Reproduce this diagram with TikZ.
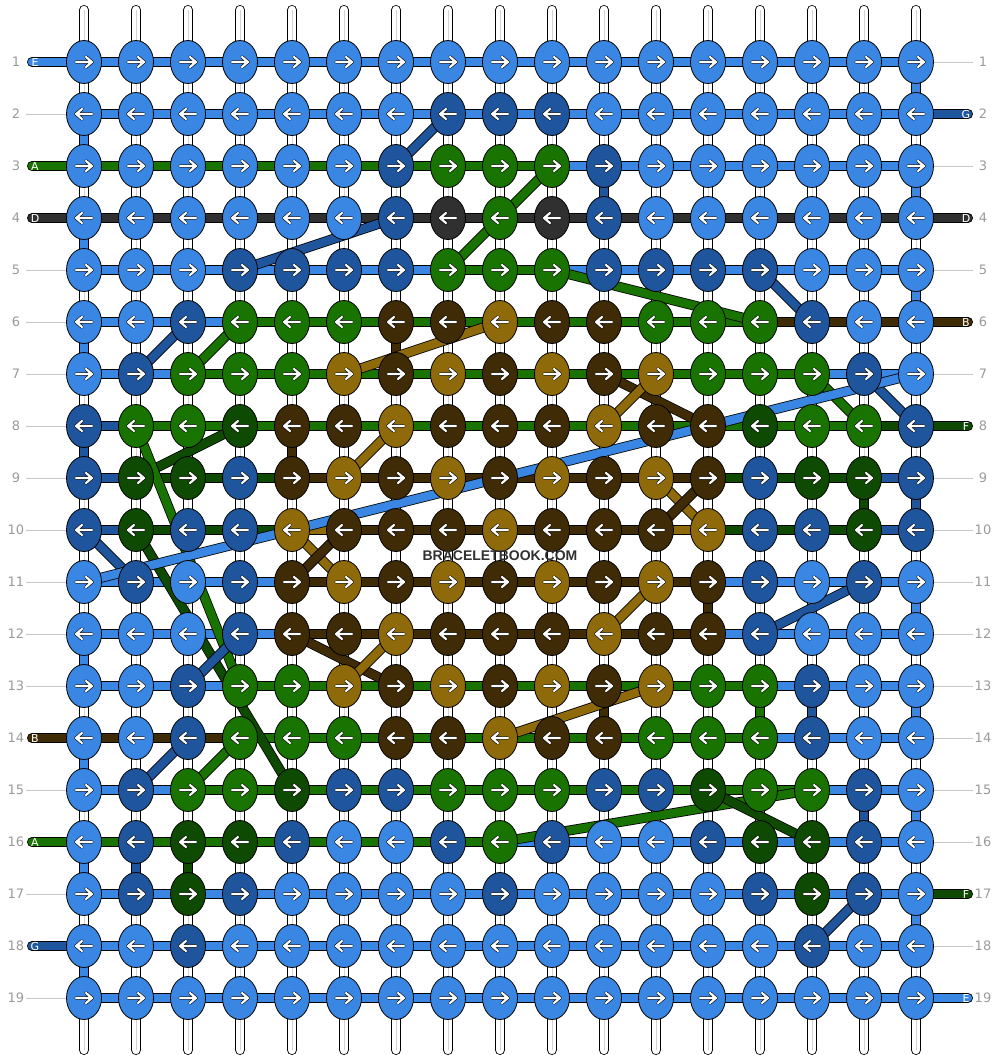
\documentclass[tikz,border=0pt]{standalone}
\usepackage{fontspec}
\setmainfont{DejaVu Sans}
\newfontfamily\brandfont{Liberation Sans}
\usetikzlibrary{shapes.geometric}
\definecolor{lb}{HTML}{3A87E3}
\definecolor{db}{HTML}{1F559D}
\definecolor{gr}{HTML}{197300}
\definecolor{dg}{HTML}{0F4A02}
\definecolor{br}{HTML}{3F2C07}
\definecolor{go}{HTML}{8F6A0B}
\definecolor{gy}{HTML}{303030}
\definecolor{numgray}{HTML}{9A9A9A}
\pgfdeclarelayer{warp}
\pgfdeclarelayer{bars}
\pgfsetlayers{warp,bars,main}
\tikzset{
  knot/.style={ellipse, draw, line width=.8pt, minimum width=35pt, minimum height=43pt, inner sep=0pt},
  thread/.style={draw=black, double=#1, double distance=8.4pt, line width=.8pt},
  tick/.style={draw=black!22, line width=1pt},
  num/.style={text=numgray, font=\fontsize{13}{13}\selectfont, inner sep=0pt},
  tag/.style={text=white, font=\fontsize{11}{11}\selectfont, inner sep=0pt},
  rarr/.pic={
    \draw[black, line width=3.4pt, line cap=round, line join=round] (-8,0)--(8,0) (2,-5)--(8,0)--(2,5);
    \draw[white, line width=2.2pt, line cap=round, line join=round] (-8,0)--(8,0) (2,-5)--(8,0)--(2,5);},
  larr/.pic={
    \draw[black, line width=3.4pt, line cap=round, line join=round] (8,0)--(-8,0) (-2,-5)--(-8,0)--(-2,5);
    \draw[white, line width=2.2pt, line cap=round, line join=round] (8,0)--(-8,0) (-2,-5)--(-8,0)--(-2,5);}
}

\begin{document}
\begin{tikzpicture}[x=1pt, y=-1pt]
\useasboundingbox (0,0) rectangle (1000,1060);

% knots
\foreach \rw/\cols in {
  1/{lb,lb,lb,lb,lb,lb,lb,lb,lb,lb,lb,lb,lb,lb,lb,lb,lb},
  2/{lb,lb,lb,lb,lb,lb,lb,db,db,db,lb,lb,lb,lb,lb,lb,lb},
  3/{lb,lb,lb,lb,lb,lb,db,gr,gr,gr,db,lb,lb,lb,lb,lb,lb},
  4/{lb,lb,lb,lb,lb,lb,db,gy,gr,gy,db,lb,lb,lb,lb,lb,lb},
  5/{lb,lb,lb,db,db,db,db,gr,gr,gr,db,db,db,db,lb,lb,lb},
  6/{lb,lb,db,gr,gr,gr,br,br,go,br,br,gr,gr,gr,db,lb,lb},
  7/{lb,db,gr,gr,gr,go,br,go,br,go,br,go,gr,gr,gr,db,lb},
  8/{db,gr,gr,dg,br,br,go,br,br,br,go,br,br,dg,gr,gr,db},
  9/{db,dg,dg,db,br,go,br,go,br,go,br,go,br,db,dg,dg,db},
  10/{db,dg,db,db,go,br,br,br,go,br,br,br,go,db,db,dg,db},
  11/{lb,db,lb,db,br,go,br,go,br,go,br,go,br,db,lb,db,lb},
  12/{lb,lb,lb,db,br,br,go,br,br,br,go,br,br,db,lb,lb,lb},
  13/{lb,lb,db,gr,gr,go,br,go,br,go,br,go,gr,gr,db,lb,lb},
  14/{lb,lb,db,gr,gr,gr,br,br,go,br,br,gr,gr,gr,db,lb,lb},
  15/{lb,db,gr,gr,dg,db,db,gr,gr,gr,db,db,dg,gr,gr,db,lb},
  16/{lb,db,dg,dg,db,lb,lb,db,gr,db,lb,lb,db,dg,dg,db,lb},
  17/{lb,db,dg,db,lb,lb,lb,lb,db,lb,lb,lb,lb,db,dg,db,lb},
  18/{lb,lb,db,lb,lb,lb,lb,lb,lb,lb,lb,lb,lb,lb,db,lb,lb},
  19/{lb,lb,lb,lb,lb,lb,lb,lb,lb,lb,lb,lb,lb,lb,lb,lb,lb}} {
  \foreach \kc [count=\i] in \cols {
    \node[knot, fill=\kc] (k\rw-\i) at ({84+52*(\i-1)},{62+52*(\rw-1)}) {};
    \ifodd\rw\relax \pic at (k\rw-\i) {rarr}; \else \pic at (k\rw-\i) {larr}; \fi
  }
}

\begin{pgfonlayer}{warp}
\foreach \i in {1,...,17} {
  \coordinate (t\i) at ({84+52*(\i-1)},10);
  \coordinate (b\i) at ({84+52*(\i-1)},1050);
  \draw[thread=white, line cap=round] (t\i) -- (b\i);
  \draw[black!18, line width=1pt] (t\i) -- (b\i);
}
\end{pgfonlayer}

\begin{pgfonlayer}{bars}
\foreach \rw/\segs in {
  1/{lb,lb,lb,lb,lb,lb,lb,lb,lb,lb,lb,lb,lb,lb,lb,lb},
  2/{lb,lb,lb,lb,lb,lb,lb,lb,lb,lb,lb,lb,lb,lb,lb,lb},
  3/{gr,gr,gr,gr,gr,gr,gr,gr,gr,lb,lb,lb,lb,lb,lb,lb},
  4/{gy,gy,gy,gy,gy,gy,gy,gy,gy,gy,gy,gy,gy,gy,gy,gy},
  5/{lb,lb,lb,lb,lb,lb,lb,gr,gr,lb,lb,lb,lb,lb,lb,lb},
  6/{lb,lb,lb,gr,gr,gr,gr,gr,gr,gr,gr,gr,gr,br,br,br},
  7/{lb,lb,gr,gr,gr,gr,gr,gr,gr,gr,gr,gr,gr,gr,lb,lb},
  8/{db,gr,gr,gr,gr,gr,gr,gr,gr,gr,gr,gr,gr,gr,gr,dg},
  9/{db,dg,dg,dg,br,br,br,br,br,br,br,br,dg,dg,dg,db},
  10/{db,dg,dg,dg,go,br,br,br,br,br,br,go,dg,dg,dg,db},
  11/{lb,lb,lb,lb,br,br,br,br,br,br,br,br,lb,lb,lb,lb},
  12/{lb,lb,lb,lb,br,br,br,br,br,br,br,br,lb,lb,lb,lb},
  13/{lb,lb,lb,gr,gr,gr,gr,gr,gr,gr,gr,gr,gr,lb,lb,lb},
  14/{br,br,br,gr,gr,gr,gr,gr,gr,gr,gr,gr,gr,lb,lb,lb},
  15/{lb,lb,gr,gr,gr,gr,gr,gr,gr,gr,gr,gr,gr,gr,lb,lb},
  16/{gr,gr,gr,gr,gr,gr,gr,gr,lb,lb,lb,lb,lb,lb,lb,lb},
  17/{lb,lb,lb,lb,lb,lb,lb,lb,lb,lb,lb,lb,lb,lb,lb,lb},
  18/{lb,lb,lb,lb,lb,lb,lb,lb,lb,lb,lb,lb,lb,lb,lb,lb},
  19/{lb,lb,lb,lb,lb,lb,lb,lb,lb,lb,lb,lb,lb,lb,lb,lb}} {
  \foreach \sc [count=\i] in \segs {
    \pgfmathtruncatemacro\j{\i+1}
    \draw[thread=\sc] (k\rw-\i.center) -- (k\rw-\j.center);
  }
}
% threads going down one row
\foreach \kc/\rw/\vc in {1/2/lb,1/4/lb,1/6/lb,1/8/db,1/12/lb,1/14/lb,1/16/lb,1/18/lb,
  17/1/lb,17/3/lb,17/5/lb,17/9/db,17/11/lb,17/13/lb,17/15/lb,17/17/lb,
  11/3/db,7/6/br,5/8/br,16/9/dg,13/11/br,11/13/br,14/13/gr,15/13/db,16/15/db,2/16/db,3/16/dg} {
  \pgfmathtruncatemacro\nx{\rw+1}
  \draw[thread=\vc] (k\rw-\kc.center) -- (k\nx-\kc.center);
}
% threads jumping across
\foreach \a/\b/\dc in {2-8/3-7/db, 4-7/5-4/db, 3-10/5-8/gr, 5-10/6-14/gr, 5-14/6-15/db,
  6-3/7-2/db, 6-4/7-3/gr, 6-9/7-6/go, 7-11/8-13/br, 7-12/8-11/go, 7-15/8-16/gr, 7-16/8-17/db,
  8-4/9-2/dg, 8-2/13-4/gr, 10-2/15-5/dg, 10-1/11-2/db, 12-4/13-3/db, 10-5/11-6/go, 11-5/10-6/br,
  9-6/8-7/go, 12-5/13-7/br, 12-7/13-6/go, 9-12/10-13/go, 9-13/10-12/br, 11-12/12-11/go,
  13-12/14-9/go, 11-16/12-14/db, 14-4/15-3/gr, 14-3/15-2/db, 16-9/15-15/gr, 15-13/16-15/dg,
  17-16/18-15/db, 7-17/11-1/lb}
  \draw[thread=\dc] (k\a.center) -- (k\b.center);
\end{pgfonlayer}

% loose ends with letters
\foreach \rw/\tc/\tg in {1/lb/E,3/gr/A,4/gy/D,14/br/B,16/gr/A,18/db/G} {
  \coordinate (el\rw) at (32,{62+52*(\rw-1)});
  \begin{pgfonlayer}{bars}
    \draw[thread=\tc, line cap=round] (el\rw) -- (k\rw-1.center);
  \end{pgfonlayer}
  \node[tag] (tl\rw) at ([xshift=3pt]el\rw) {\tg};
}
\foreach \rw/\tc/\tg in {2/db/G,4/gy/D,6/br/B,8/dg/F,17/dg/F,19/lb/E} {
  \coordinate (er\rw) at (968,{62+52*(\rw-1)});
  \begin{pgfonlayer}{bars}
    \draw[thread=\tc, line cap=round] (k\rw-17.center) -- (er\rw);
  \end{pgfonlayer}
  \node[tag] (tr\rw) at ([xshift=-2pt]er\rw) {\tg};
}
\foreach \rw in {2,5,6,7,8,9,10,11,12,13,15,17,19} {
  \coordinate (gl\rw) at (26,{62+52*(\rw-1)});
  \draw[tick] (gl\rw) -- (k\rw-1.west);
}
\foreach \rw in {1,3,5,7,9,10,11,12,13,14,15,16,18} {
  \coordinate (gq\rw) at (973,{62+52*(\rw-1)});
  \draw[tick] (k\rw-17.east) -- (gq\rw);
}
\foreach \rw in {1,...,19} {
  \node[num] (nl\rw) at (16,{62+52*(\rw-1)}) {\rw};
  \node[num] (nr\rw) at (983,{62+52*(\rw-1)}) {\rw};
}

\node[text=gy, font=\brandfont\bfseries\fontsize{14}{14}\selectfont] (brand) at (500,556) {BRACELETBOOK.COM};
\end{tikzpicture}
\end{document}
